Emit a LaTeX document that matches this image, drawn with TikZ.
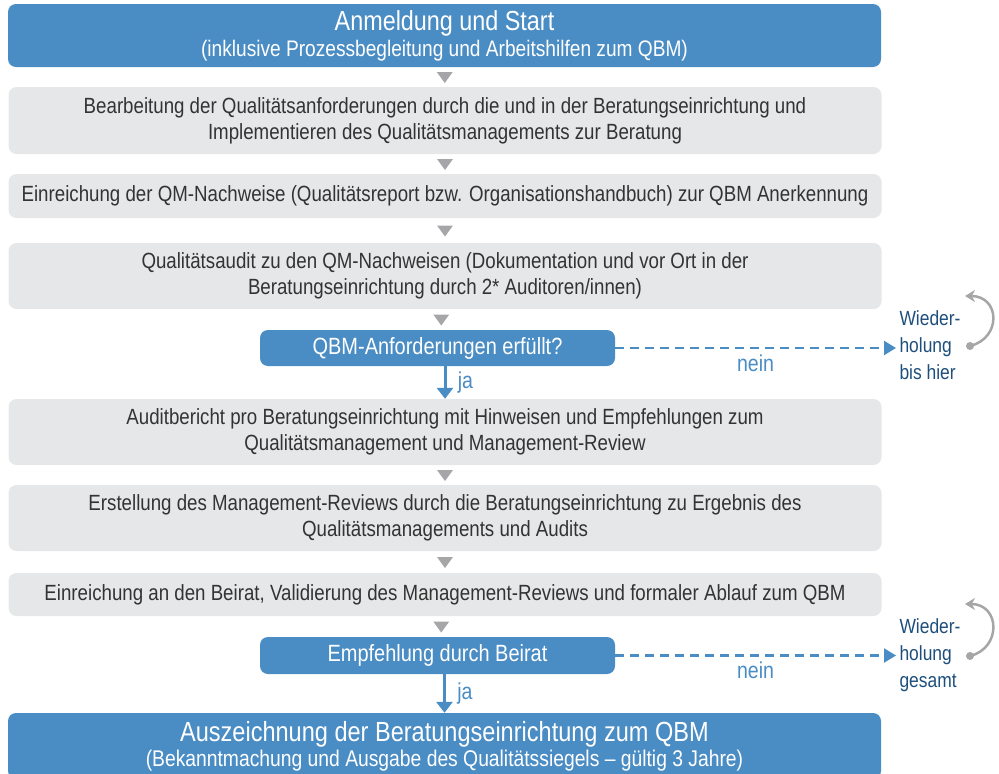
\documentclass[tikz,border=0pt]{standalone}
\usepackage{fontspec}
\setmainfont{Liberation Sans}[FakeStretch=0.85]
\usetikzlibrary{arrows.meta,calc}
\definecolor{qbmblau}{HTML}{4A8CC4}
\definecolor{qbmgrau}{HTML}{E6E7E8}
\definecolor{pfeilgrau}{HTML}{A6A6A8}
\definecolor{textgrau}{HTML}{333333}
\definecolor{dunkelblau}{HTML}{1E4F7C}
\begin{document}
\begin{tikzpicture}[x=1pt,y=-1pt,
  grau/.style={fill=qbmgrau,rounded corners=8pt,minimum width=873pt,inner sep=0pt,
    text=textgrau,align=center,font=\fontsize{22}{26}\selectfont},
  blau/.style={fill=qbmblau,rounded corners=8pt,minimum width=873pt,inner sep=0pt,
    text=white,align=center},
  frage/.style={blau,minimum width=355pt,minimum height=36pt,font=\fontsize{23.5}{26}\selectfont},
  tri/.style={fill=pfeilgrau},
  ja/.style={qbmblau,line width=3pt,-{Triangle[length=11pt,width=16pt]}},
  nein/.style={qbmblau,line width=2.2pt,dash pattern=on 9pt off 6pt,-{Triangle[length=12pt,width=14pt]}},
  marke/.style={text=qbmblau,font=\fontsize{23}{24}\selectfont},
  wdh/.style={anchor=west,align=left,text=dunkelblau,font=\fontsize{20.5}{27}\selectfont},
  zurueck/.style={pfeilgrau,line width=2.5pt,-{Stealth[length=10pt,width=12pt]}}]
\useasboundingbox (0,0) rectangle (999,774);

\node[blau,minimum height=63pt] (start) at (444.5,35.5)
  {{\fontsize{27.5}{28}\selectfont Anmeldung und Start}\\[3pt]
   {\fontsize{22.5}{26}\selectfont (inklusive Prozessbegleitung und Arbeitshilfen zum QBM)}};
\node[grau,minimum height=67pt] (b2) at (445,120.5)
  {Bearbeitung der Qualitätsanforderungen durch die und in der Beratungseinrichtung und\\
   Implementieren des Qualitätsmanagements zur Beratung};
\node[grau,minimum height=44pt] (b3) at (445,196)
  {Einreichung der QM-Nachweise (Qualitätsreport bzw. Organisationshandbuch) zur QBM Anerkennung};
\node[grau,minimum height=66pt] (b4) at (445,276)
  {Qualitätsaudit zu den QM-Nachweisen (Dokumentation und vor Ort in der\\
   Beratungseinrichtung durch 2* Auditoren/innen)};
\node[frage] (d1) at (437.5,348) {QBM-Anforderungen erfüllt?};
\node[grau,minimum height=66pt] (b5) at (445,432)
  {Auditbericht pro Beratungseinrichtung mit Hinweisen und Empfehlungen zum\\
   Qualitätsmanagement und Management-Review};
\node[grau,minimum height=66pt] (b6) at (445,518)
  {Erstellung des Management-Reviews durch die Beratungseinrichtung zu Ergebnis des\\
   Qualitätsmanagements und Audits};
\node[grau,minimum height=43pt] (b7) at (445,594.5)
  {Einreichung an den Beirat, Validierung des Management-Reviews und formaler Ablauf zum QBM};
\node[frage,minimum height=37pt] (d2) at (437.5,655.5) {Empfehlung durch Beirat};
\node[blau,minimum height=66pt] (ende) at (444.5,746)
  {{\fontsize{27.7}{29}\selectfont Auszeichnung der Beratungseinrichtung zum QBM}\\[2pt]
   {\fontsize{22.7}{26}\selectfont (Bekanntmachung und Ausgabe des Qualitätssiegels – gültig 3 Jahre)}};

\node[wdh] (w1) at (896,345) {Wieder-\\holung\\bis hier};
\node[wdh] (w2) at (896,655) {Wieder-\\holung\\gesamt};

\foreach \a/\b in {start/b2,b2/b3,b3/b4,b4/d1,b5/b6,b6/b7,b7/d2}
  \fill[tri] ($(\a.south)!.5!(\b.north)$) +(-8,-5) -- +(8,-5) -- +(0,6) -- cycle;

\draw[ja] (b5.north |- d1.south) -- (b5.north) node[marke,midway,right=8pt] {ja};
\draw[ja] (ende.north |- d2.south) -- (ende.north) node[marke,midway,right=8pt] {ja};
\draw[nein] (d1.east) -- (d1.east -| w1.west) node[marke,midway,below=2pt] {nein};
\draw[nein] (d2.east) -- (d2.east -| w2.west) node[marke,midway,below=2pt] {nein};

\coordinate (r1) at (970,346);
\coordinate (s1) at (965,296);
\coordinate (r2) at (970,656);
\coordinate (s2) at (965,604);
\draw[zurueck] (r1) .. controls (1002,338) and (1000,296) .. (s1);
\draw[zurueck] (r2) .. controls (1002,648) and (1000,604) .. (s2);
\fill[pfeilgrau] (r1) circle (4pt) (r2) circle (4pt);
\end{tikzpicture}
\end{document}
